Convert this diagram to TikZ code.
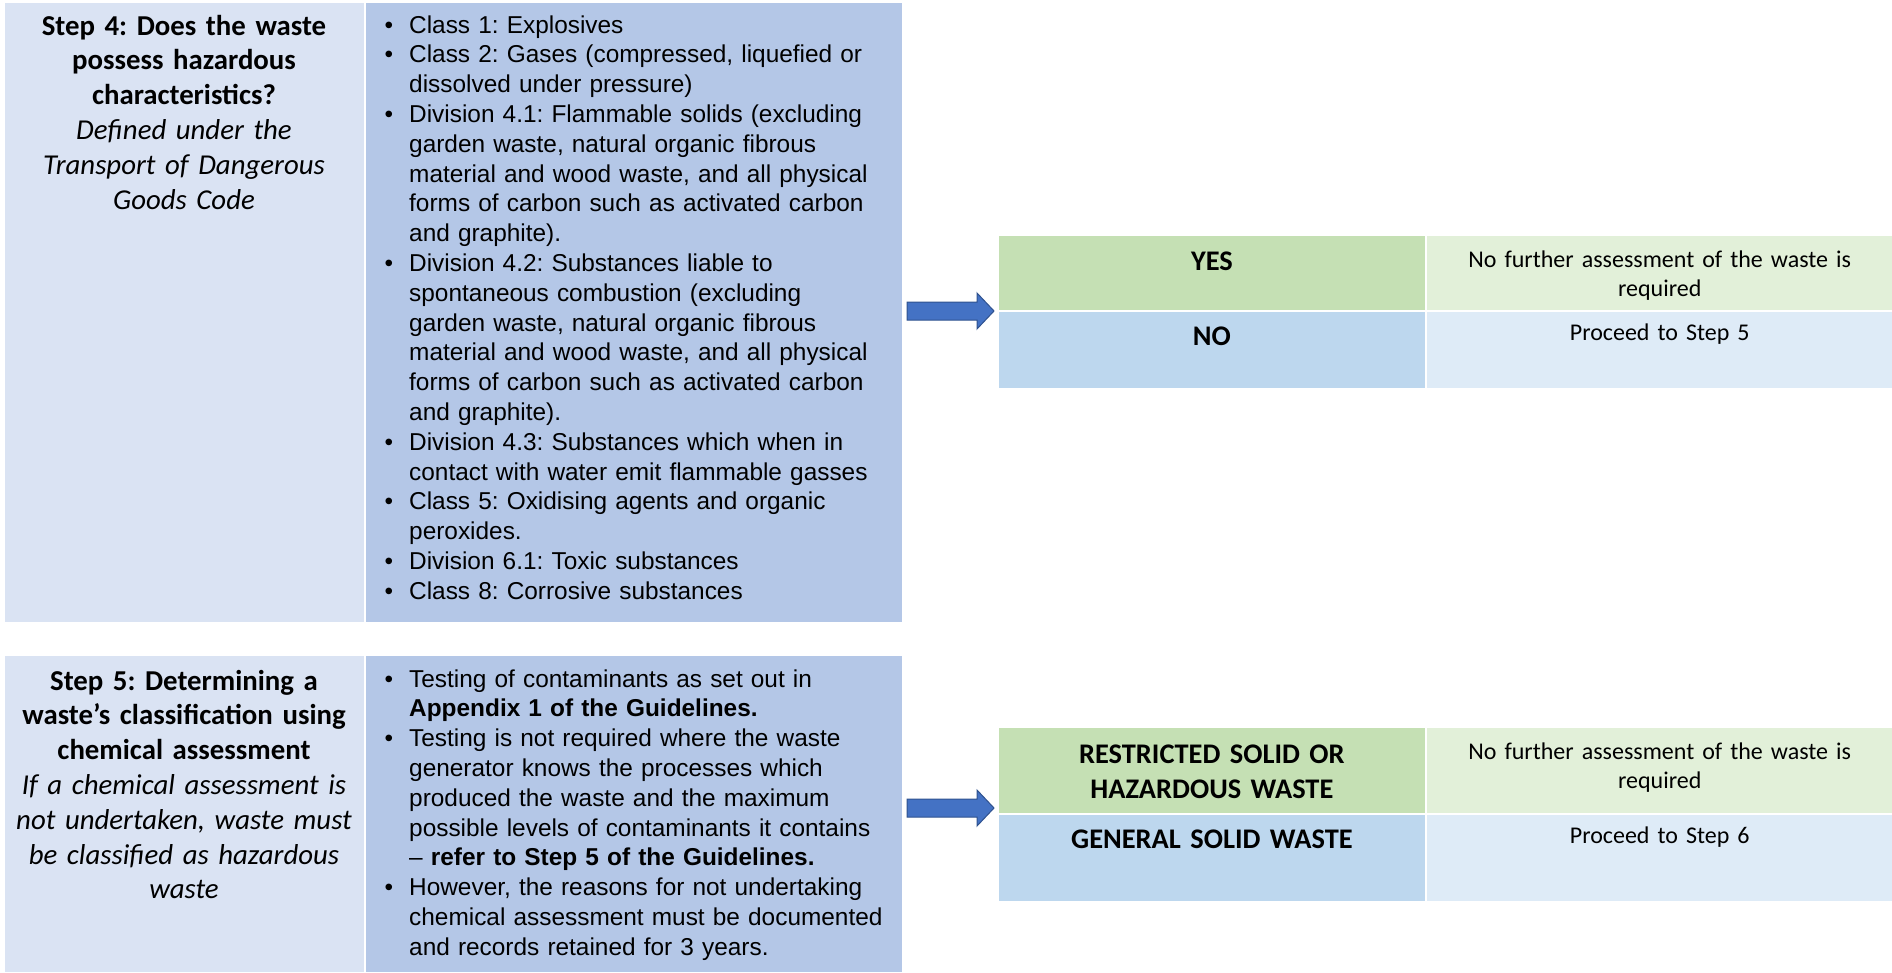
\documentclass[tikz,border=0pt]{standalone}
\usepackage{fontspec}
\setmainfont{Carlito}
\newfontfamily\arialfont{Liberation Sans}
\definecolor{steplight}{HTML}{DAE3F3}
\definecolor{stepblue}{HTML}{B4C7E7}
\definecolor{yesgreen}{HTML}{C5E0B4}
\definecolor{yeslight}{HTML}{E2F0D9}
\definecolor{noblue}{HTML}{BDD7EE}
\definecolor{nolight}{HTML}{DEEBF7}
\definecolor{arrowblue}{HTML}{4472C4}
\definecolor{arrowedge}{HTML}{2F528F}
\newcommand{\bitem}{\leavevmode\llap{•\hspace{16pt}}}
\frenchspacing

\begin{document}
\begin{tikzpicture}[x=1pt,y=-1pt]
\tikzset{cell/.style = {anchor=north west, inner sep=0pt, draw=white, line width=0.8pt}}
\tikzset{heading/.style = {anchor=base, align=center, text width=352pt, inner sep=0pt, font=\fontsize{28.8}{34.8}\selectfont}}
\tikzset{bullets/.style = {anchor=base west, align=left, text width=490pt, inner sep=0pt, font=\arialfont\fontsize{24.4}{29.8}\selectfont}}
\tikzset{answer/.style = {anchor=base, align=center, text width=420pt, inner sep=0pt, font=\bfseries\fontsize{28.4}{35}\selectfont}}
\tikzset{result/.style = {anchor=base, align=center, text width=460pt, inner sep=0pt, font=\fontsize{24}{29}\selectfont}}
\tikzset{blockarrow/.style = {fill=arrowblue, draw=arrowedge, line width=1pt}}
\useasboundingbox (0,0) rectangle (1892,972);
% step 4 cells
\node[cell, fill=steplight, minimum width=360pt, minimum height=620pt] (step4) at (4,2) {};
\node[cell, fill=stepblue, minimum width=537pt, minimum height=620pt] (list4) at (step4.north east) {};
% step 5 cells
\node[cell, fill=steplight, minimum width=360pt, minimum height=317pt] (step5) at (4,655) {};
\node[cell, fill=stepblue, minimum width=537pt, minimum height=317pt] (list5) at (step5.north east) {};
% step 4 outcomes
\node[cell, fill=yesgreen, minimum width=427pt, minimum height=75pt] (yes4) at (998,235) {};
\node[cell, fill=yeslight, minimum width=467pt, minimum height=75pt] (yes4r) at (yes4.north east) {};
\node[cell, fill=noblue, minimum width=427pt, minimum height=77pt] (no4) at (yes4.south west) {};
\node[cell, fill=nolight, minimum width=467pt, minimum height=77pt] (no4r) at (no4.north east) {};
% step 5 outcomes
\node[cell, fill=yesgreen, minimum width=427pt, minimum height=86pt] (yes5) at (998,727) {};
\node[cell, fill=yeslight, minimum width=467pt, minimum height=86pt] (yes5r) at (yes5.north east) {};
\node[cell, fill=noblue, minimum width=427pt, minimum height=87pt] (no5) at (yes5.south west) {};
\node[cell, fill=nolight, minimum width=467pt, minimum height=87pt] (no5r) at (no5.north east) {};
% headings
\node[heading] (step4t) at (184,35) {{\bfseries Step 4: Does the waste\\possess hazardous\\characteristics?}\\{\itshape Defined under the\\Transport of Dangerous\\Goods Code}};
\node[heading] (step5t) at (184,690) {{\bfseries Step 5: Determining a\\waste’s classification using\\chemical assessment}\\{\itshape If a chemical assessment is\\not undertaken, waste must\\be classified as hazardous\\waste}};
% lists
\node[bullets] (list4t) at (409,33) {\bitem Class 1: Explosives\\
\bitem Class 2: Gases (compressed, liquefied or\\
dissolved under pressure)\\
\bitem Division 4.1: Flammable solids (excluding\\
garden waste, natural organic fibrous\\
material and wood waste, and all physical\\
forms of carbon such as activated carbon\\
and graphite).\\
\bitem Division 4.2: Substances liable to\\
spontaneous combustion (excluding\\
garden waste, natural organic fibrous\\
material and wood waste, and all physical\\
forms of carbon such as activated carbon\\
and graphite).\\
\bitem Division 4.3: Substances which when in\\
contact with water emit flammable gasses\\
\bitem Class 5: Oxidising agents and organic\\
peroxides.\\
\bitem Division 6.1: Toxic substances\\
\bitem Class 8: Corrosive substances};
\node[bullets] (list5t) at (409,687) {\bitem Testing of contaminants as set out in\\
{\bfseries Appendix 1 of the Guidelines.}\\
\bitem Testing is not required where the waste\\
generator knows the processes which\\
produced the waste and the maximum\\
possible levels of contaminants it contains\\
– {\bfseries refer to Step 5 of the Guidelines.}\\
\bitem However, the reasons for not undertaking\\
chemical assessment must be documented\\
and records retained for 3 years.};
% outcome texts
\node[answer] (yes4t) at (yes4.center |- 0,270) {YES};
\node[result] (yes4rt) at (yes4r.center |- 0,267) {No further assessment of the waste is\\required};
\node[answer] (no4t) at (no4.center |- 0,345) {NO};
\node[result] (no4rt) at (no4r.center |- 0,340) {Proceed to Step 5};
\node[answer] (yes5t) at (yes5.center |- 0,763) {RESTRICTED SOLID OR\\HAZARDOUS WASTE};
\node[result] (yes5rt) at (yes5r.center |- 0,759) {No further assessment of the waste is\\required};
\node[answer] (no5t) at (no5.center |- 0,848) {GENERAL SOLID WASTE};
\node[result] (no5rt) at (no5r.center |- 0,843) {Proceed to Step 6};
% arrows
\coordinate (a4) at (907,311);
\coordinate (a5) at (907,808);
\draw[blockarrow] (a4) -- ++(0,-9) -- ++(70,0) -- ++(0,-9) -- ++(17,18) -- ++(-17,18) -- ++(0,-9) -- ++(-70,0) -- cycle;
\draw[blockarrow] (a5) -- ++(0,-9) -- ++(70,0) -- ++(0,-9) -- ++(17,18) -- ++(-17,18) -- ++(0,-9) -- ++(-70,0) -- cycle;
\end{tikzpicture}
\end{document}
